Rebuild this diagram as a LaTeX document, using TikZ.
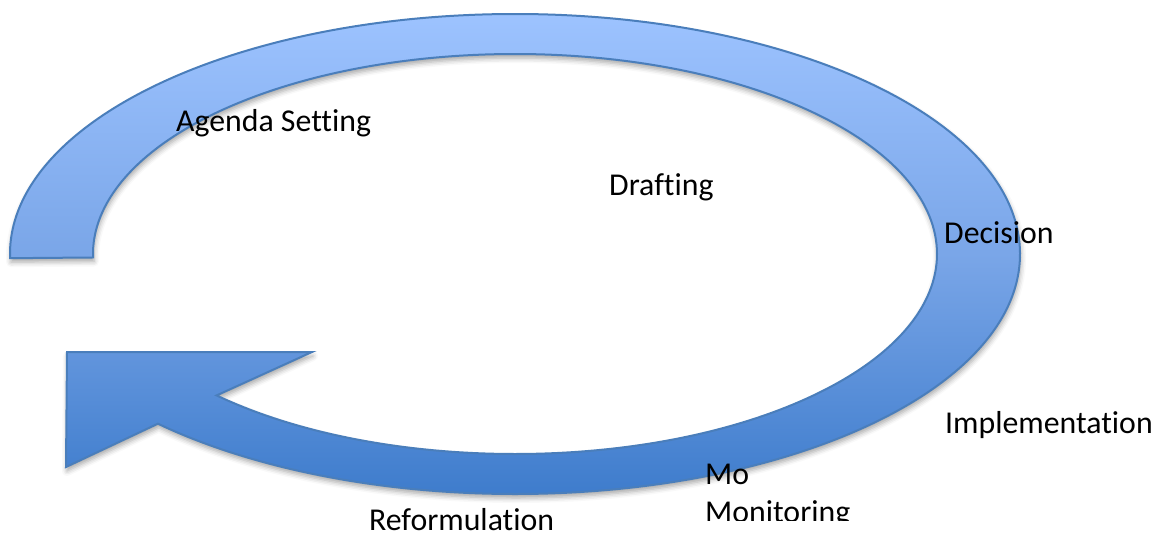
\documentclass[tikz,border=0pt]{standalone}
\usepackage{fontspec}
\setmainfont[Ligatures={NoCommon}]{Carlito}
\usetikzlibrary{shadows.blur}
\definecolor{bandtop}{RGB}{157,195,255}
\definecolor{bandmid}{RGB}{122,166,232}
\definecolor{bandbot}{RGB}{62,124,204}
\definecolor{bandline}{RGB}{74,126,187}
\begin{document}
\begin{tikzpicture}[x=1pt,y=-1pt,
  band/.style={draw=bandline, line width=2pt, line join=miter,
    top color=bandtop, bottom color=bandbot, middle color=bandmid,
    blur shadow={shadow xshift=1pt, shadow yshift=-4pt, shadow blur radius=5pt, shadow opacity=35}},
  lbl/.style={anchor=base west, inner sep=0pt, font=\fontsize{31.8}{36}\selectfont, text=black}]
\useasboundingbox (0,0) rectangle (1163,533);
\coordinate (c) at (515,254);
\coordinate (tailO) at ([shift={(c)}]179:505 and 240);
\coordinate (notchI) at ([shift={(c)}]495:422 and 200);
\coordinate (tipB) at (66,467);
\coordinate (tipP) at (67,352);
\coordinate (tipT) at (312,352);
\path[band] (tailO) arc[start angle=179, end angle=495, x radius=505, y radius=240]
  -- (tipB) -- (tipP) -- (tipT) -- (notchI)
  arc[start angle=495, end angle=179, x radius=422, y radius=200] -- cycle;
\node[lbl] (agenda) at (176,131) {Agenda Setting};
\node[lbl] (draft) at (609,195) {Drafting};
\node[lbl] (dec) at (944,243) {Decision};
\node[lbl] (impl) at (945,433) {Implementation};
\node[lbl] (mo) at (705,484) {Mo};
\begin{scope}
\clip (650,490) rectangle (900,520);
\node[lbl] (mon) at (705,522.5) {Monitoring};
\end{scope}
\node[lbl] (ref) at (369,530.5) {Reformulation};
\end{tikzpicture}
\end{document}
